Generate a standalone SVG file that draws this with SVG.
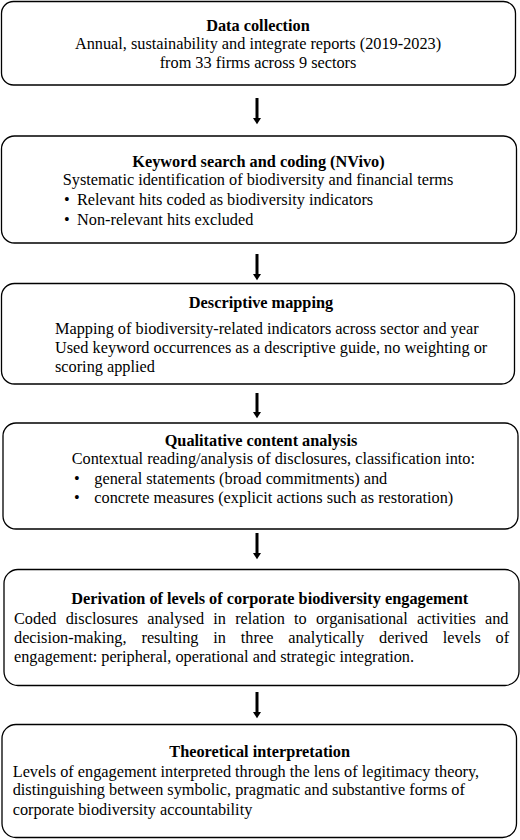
<svg xmlns="http://www.w3.org/2000/svg" width="520" height="840" viewBox="0 0 520 840">
<style>
.box{fill:#fff;stroke:#000;stroke-width:1.3}
.txt text{font-family:'Liberation Serif',serif;font-size:16.3px;fill:#000}
.t{font-weight:bold;text-anchor:middle}
.c{text-anchor:middle}
.arr{stroke:#000;stroke-width:3;fill:none}
</style>
<defs>
<marker id="ah" markerUnits="userSpaceOnUse" markerWidth="10" markerHeight="8" refX="0" refY="4.5" orient="auto" viewBox="0 0 8 9">
<polygon points="0,0 7,4.5 0,9" fill="#000"/>
</marker>
</defs>
<rect width="520" height="840" fill="#fff"/>
<g id="connectors">
<line class="arr" x1="257" y1="98" x2="257" y2="118" marker-end="url(#ah)"/>
<line class="arr" x1="257" y1="254" x2="257" y2="274" marker-end="url(#ah)"/>
<line class="arr" x1="257" y1="393" x2="257" y2="412" marker-end="url(#ah)"/>
<line class="arr" x1="257" y1="533" x2="257" y2="553" marker-end="url(#ah)"/>
<line class="arr" x1="257" y1="692" x2="257" y2="712" marker-end="url(#ah)"/>
</g>
<g class="txt" font-family="Liberation Serif, serif">
<g id="n1">
<rect class="box" x="1.5" y="1.5" width="514" height="83.5" rx="12"/>
<text class="t" x="258" y="30.7">Data collection</text>
<text class="c" x="258" y="49.3">Annual, sustainability and integrate reports (2019-2023)</text>
<text class="c" x="258" y="67.7">from 33 firms across 9 sectors</text>
</g>
<g id="n2">
<rect class="box" x="1.5" y="136" width="515" height="107" rx="13"/>
<text class="t" x="258.5" y="166.7">Keyword search and coding (NVivo)</text>
<text x="62.7" y="185">Systematic identification of biodiversity and financial terms</text>
<text x="64" y="205">•</text>
<text x="77" y="205">Relevant hits coded as biodiversity indicators</text>
<text x="64" y="225">•</text>
<text x="77" y="225">Non-relevant hits excluded</text>
</g>
<g id="n3">
<rect class="box" x="1.5" y="283.5" width="513" height="100.5" rx="13"/>
<text class="t" x="261" y="308.3">Descriptive mapping</text>
<text x="55" y="334">Mapping of biodiversity-related indicators across sector and year</text>
<text x="55" y="352.7">Used keyword occurrences as a descriptive guide, no weighting or</text>
<text x="55" y="371.7">scoring applied</text>
</g>
<g id="n4">
<rect class="box" x="3" y="423" width="515" height="106" rx="13"/>
<text class="t" x="261" y="445.7">Qualitative content analysis</text>
<text x="71.7" y="464.3">Contextual reading/analysis of disclosures, classification into:</text>
<text x="74" y="484">•</text>
<text x="94.3" y="484">general statements (broad commitments) and</text>
<text x="74" y="503.3">•</text>
<text x="94.3" y="503.3">concrete measures (explicit actions such as restoration)</text>
</g>
<g id="n5">
<rect class="box" x="4" y="569.5" width="515" height="116" rx="14"/>
<text class="t" x="269.7" y="604.3">Derivation of levels of corporate biodiversity engagement</text>
<text x="14" y="624.3" word-spacing="5.1">Coded disclosures analysed in relation to organisational activities and</text>
<text x="14" y="643.3" word-spacing="10.8">decision-making, resulting in three analytically derived levels of</text>
<text x="14" y="662.3">engagement: peripheral, operational and strategic integration.</text>
</g>
<g id="n6">
<rect class="box" x="2" y="724.5" width="514.5" height="113" rx="14"/>
<text class="t" x="259.7" y="756.7">Theoretical interpretation</text>
<text x="12.7" y="776.7">Levels of engagement interpreted through the lens of legitimacy theory,</text>
<text x="12.7" y="795">distinguishing between symbolic, pragmatic and substantive forms of</text>
<text x="12.7" y="815">corporate biodiversity accountability</text>
</g>
</g>
</svg>
